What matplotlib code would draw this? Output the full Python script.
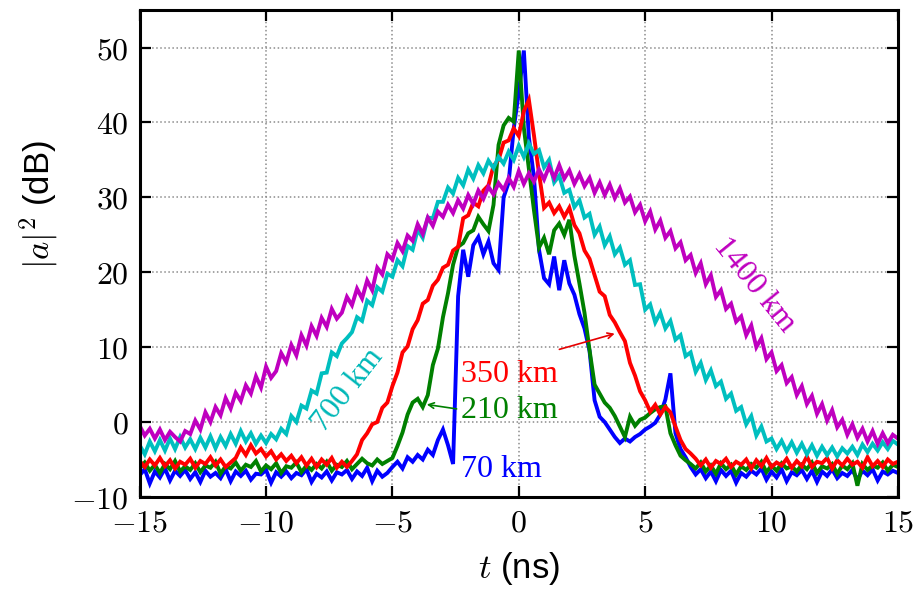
import numpy as np
import matplotlib
matplotlib.use("Agg")
import matplotlib.pyplot as plt
from matplotlib.ticker import FuncFormatter

plt.rcParams["font.family"] = ["Liberation Sans", "DejaVu Sans"]
plt.rcParams["mathtext.fontset"] = "cm"

# Time axis (ns), 0.2 ns sampling
t = np.linspace(-15, 15, 151)

# Pulse power |a|^2 (dB) after each propagation distance
p_70km = [
    -7.1, -6.3, -8.2, -6.6, -7.4, -6.2, -7.8, -6.5, -7.2, -6.4,
    -7.6, -6.7, -8.0, -6.5, -7.3, -6.8, -7.5, -6.3, -7.9, -6.6,
    -7.2, -6.5, -7.7, -6.9, -7.0, -6.4, -8.1, -6.7, -7.3, -6.6,
    -7.5, -6.8, -7.1, -6.3, -8.0, -6.9, -7.4, -6.6, -7.8, -6.7,
    -7.0, -6.4, -7.6, -6.6, -7.2, -6.1, -7.9, -6.5, -7.3, -6.8,
    -6.0, -5.3, -6.2, -4.7, -5.3, -4.4, -5.0, -3.7, -4.4, -2.4,
    -1.0, -3.1, -5.6, 16.8, 23.0, 19.4, 23.6, 24.7, 22.4, 24.1,
    21.2, 20.3, 30.0, 32.0, 39.2, 44.0, 49.6, 38.0, 32.7, 23.0,
    19.2, 18.4, 22.1, 17.6, 21.6, 18.5, 17.0, 14.4, 12.5, 9.5,
    2.9, 0.7, 0.0, -1.0, -2.0, -2.8, -2.2, -2.6, -2.0, -1.6,
    -1.0, -0.6, -0.1, 1.0, 3.0, 6.5, -1.5, -3.6, -4.7, -6.0,
    -7.0, -6.3, -7.5, -6.6, -7.9, -6.4, -7.2, -6.5, -8.1, -6.8,
    -7.3, -6.5, -7.0, -6.2, -7.7, -6.6, -7.4, -6.3, -7.9, -6.7,
    -7.1, -6.4, -7.6, -6.5, -8.0, -6.6, -7.2, -6.3, -7.5, -6.8,
    -7.2, -6.4, -7.7, -6.5, -7.1, -6.3, -7.8, -6.6, -7.0, -6.5,
    -6.8,
]

p_210km = [
    -6.2, -5.4, -6.5, -5.7, -6.8, -5.6, -6.3, -5.2, -6.6, -5.9,
    -6.4, -5.5, -6.7, -5.8, -6.1, -5.3, -6.9, -5.9, -6.2, -5.4,
    -6.5, -5.7, -6.0, -5.2, -6.6, -5.8, -6.3, -5.5, -6.8, -5.9,
    -6.1, -5.4, -6.7, -5.8, -6.4, -5.6, -6.2, -5.3, -6.5, -5.7,
    -6.0, -5.2, -6.3, -5.6, -4.9, -5.5, -5.8, -5.0, -5.6, -5.2,
    -4.8, -3.2, -1.4, 1.0, 2.6, 3.1, 2.0, 3.6, 7.6, 9.8,
    14.0, 17.2, 21.0, 23.4, 23.9, 25.2, 25.6, 27.4, 26.4, 25.5,
    29.0, 37.0, 39.6, 40.6, 40.1, 49.6, 39.3, 33.8, 28.3, 23.3,
    24.6, 22.4, 25.6, 26.5, 25.0, 27.0, 22.2, 18.5, 14.6, 9.6,
    5.0, 3.8, 2.6, 1.9, 0.8, -0.6, -2.0, 0.7, -0.5, 0.3,
    0.6, 1.2, 1.7, 2.0, 2.1, -1.5, -3.1, -4.5, -5.1, -5.6,
    -6.2, -5.4, -6.6, -5.8, -6.9, -5.5, -6.3, -5.7, -7.0, -5.9,
    -6.4, -5.6, -6.1, -5.3, -6.7, -5.8, -6.5, -5.5, -6.2, -5.9,
    -6.6, -5.7, -6.3, -5.4, -6.8, -5.9, -6.2, -5.6, -6.9, -5.8,
    -6.3, -5.5, -8.5, -5.6, -6.4, -5.8, -6.1, -5.4, -6.5, -5.7,
    -6.0,
]

p_350km = [
    -5.2, -6.0, -5.0, -5.8, -4.8, -5.9, -5.1, -6.2, -5.3, -5.7,
    -4.9, -6.1, -5.2, -5.6, -4.7, -5.8, -5.0, -6.0, -5.4, -4.8,
    -3.4, -4.4, -3.1, -4.2, -3.6, -4.6, -3.9, -5.0, -4.3, -5.2,
    -4.5, -5.5, -4.7, -5.8, -4.9, -6.0, -5.0, -5.7, -4.8, -6.1,
    -5.3, -6.0, -5.2, -4.3, -2.4, -1.5, -0.3, 0.0, 1.9, 2.6,
    4.8, 6.6, 9.3, 10.1, 12.4, 13.6, 15.8, 16.3, 18.2, 19.0,
    20.6, 21.0, 22.9, 23.4, 27.2, 27.6, 29.3, 28.8, 30.9, 31.6,
    34.2, 35.0, 37.3, 37.6, 39.2, 38.2, 41.5, 43.0, 38.3, 33.2,
    28.6, 29.3, 27.9, 28.8, 27.4, 28.6, 26.3, 25.2, 22.9, 21.8,
    19.6, 17.4, 16.8, 14.3, 13.3, 12.0, 10.8, 7.9, 6.2, 4.1,
    2.9, 1.4, 2.3, 1.0, 2.0, 1.3, -0.6, -2.4, -3.6, -4.2,
    -4.9, -5.8, -5.0, -6.1, -5.2, -5.6, -4.9, -6.0, -5.3, -5.7,
    -5.0, -6.2, -5.1, -5.9, -4.8, -6.0, -5.4, -5.8, -4.9, -6.1,
    -5.2, -5.9, -4.6, -6.0, -5.3, -5.5, -4.8, -6.2, -5.1, -5.8,
    -4.9, -5.7, -5.3, -6.1, -4.7, -5.9, -5.2, -6.0, -5.0, -5.6,
    -5.3,
]

p_700km = [
    -3.1, -4.3, -2.6, -3.9, -2.4, -3.8, -2.2, -3.6, -2.0, -3.4,
    -2.3, -3.6, -2.1, -3.4, -1.9, -3.5, -2.0, -3.2, -1.6, -2.9,
    -1.2, -2.6, -1.5, -2.9, -1.8, -2.8, -1.6, -2.3, -0.9, -1.6,
    0.8, 0.0, 2.2, 1.8, 4.2, 3.8, 6.5, 6.6, 9.3, 8.8,
    10.5, 11.2, 12.0, 14.0, 13.5, 16.2, 15.6, 18.0, 17.4, 19.8,
    19.4, 21.6, 20.8, 23.5, 23.0, 25.7, 24.6, 27.3, 27.2, 29.4,
    29.4, 31.3, 30.5, 32.6, 31.6, 33.7, 32.5, 34.3, 33.2, 34.9,
    33.9, 35.4, 34.5, 36.1, 35.0, 36.9, 35.4, 37.2, 35.8, 36.3,
    34.0, 35.0, 32.0, 32.9, 30.6, 31.0, 28.7, 29.6, 27.3, 27.8,
    25.0, 26.1, 23.6, 24.8, 22.4, 23.3, 21.0, 21.6, 18.3, 18.4,
    15.0, 15.7, 13.3, 14.6, 12.5, 13.5, 11.0, 11.6, 8.8, 9.3,
    6.7, 7.9, 5.6, 6.9, 4.8, 5.4, 3.1, 3.8, 1.5, 2.0,
    -0.3, 0.8, -1.8, -0.6, -2.6, -2.2, -3.6, -2.5, -3.9, -2.7,
    -4.1, -2.9, -4.3, -3.1, -4.5, -3.3, -4.4, -3.4, -4.6, -3.5,
    -4.2, -3.3, -4.4, -3.0, -4.0, -2.9, -3.8, -2.7, -3.6, -2.5,
    -3.0,
]

p_1400km = [
    -0.5, -1.8, -0.9, -2.2, -1.0, -2.4, -1.3, -2.0, -2.6, -1.2,
    -1.6, 0.2, -1.0, 1.3, 0.0, 2.0, 0.9, 3.2, 1.8, 3.9,
    2.8, 4.9, 3.8, 6.1, 4.6, 7.4, 5.9, 6.8, 9.2, 8.0,
    10.3, 8.9, 11.6, 10.2, 12.8, 11.5, 13.9, 12.7, 15.1, 13.8,
    14.6, 16.7, 15.6, 17.8, 16.5, 18.9, 17.6, 20.6, 19.7, 22.4,
    21.7, 23.9, 22.8, 24.9, 24.2, 26.4, 25.1, 27.3, 26.2, 28.1,
    27.4, 29.0, 27.9, 29.6, 28.5, 30.3, 29.1, 30.9, 29.8, 31.4,
    30.4, 31.9, 31.0, 32.6, 31.4, 33.5, 31.8, 33.2, 32.1, 33.7,
    32.4, 34.1, 32.6, 34.3, 32.5, 33.6, 31.8, 33.1, 31.5, 32.6,
    30.6, 32.0, 30.3, 31.7, 29.9, 31.2, 29.3, 30.1, 28.0, 29.0,
    26.8, 28.1, 25.7, 26.9, 24.6, 25.5, 23.2, 24.0, 21.6, 22.3,
    19.9, 21.2, 18.4, 19.6, 16.7, 17.6, 15.1, 15.8, 13.4, 14.1,
    11.6, 12.9, 10.0, 11.2, 8.4, 9.3, 6.8, 7.6, 5.2, 6.0,
    3.6, 4.8, 2.4, 3.5, 1.1, 2.4, 0.2, 1.6, -0.7, 0.3,
    -1.7, -0.3, -2.1, -0.9, -2.6, -1.2, -2.9, -1.5, -2.8, -1.7,
    -2.2,
]

traces = [
    (p_70km, (0.0, 0.0, 1.0)),
    (p_210km, (0.0, 0.5, 0.0)),
    (p_350km, (1.0, 0.0, 0.0)),
    (p_700km, (0.0, 0.75, 0.75)),
    (p_1400km, (0.75, 0.0, 0.75)),
]

fig = plt.figure(figsize=(9.19, 5.93), dpi=100)
ax = fig.add_axes([0.152, 0.162, 0.825, 0.821])

for values, color in traces:
    ax.plot(t, values, color=color, lw=2.8, solid_joinstyle="miter")

ax.set_xlim(-15, 15)
ax.set_ylim(-10, 55)
ax.set_xticks([-15, -10, -5, 0, 5, 10, 15])
ax.set_yticks([-10, 0, 10, 20, 30, 40, 50])
cm_fmt = FuncFormatter(lambda v, pos: r"$%d$" % round(v))
ax.xaxis.set_major_formatter(cm_fmt)
ax.yaxis.set_major_formatter(cm_fmt)
ax.grid(True, linestyle=":", color="0.55", lw=1.1)
ax.tick_params(direction="in", top=True, right=True, length=8, width=1.6,
               labelsize=23)
ax.tick_params(axis="x", pad=8)
ax.tick_params(axis="y", pad=8)
for sp in ax.spines.values():
    sp.set_linewidth(2.2)

ax.set_xlabel(r"$t$ (ns)", fontsize=25)
ax.xaxis.set_label_coords(0.5, -0.11)
ax.set_ylabel(r"$|a|^2$ (dB)", fontsize=25)
ax.yaxis.set_label_coords(-0.105, 0.6)

serif = ["Liberation Serif", "DejaVu Serif"]
ax.text(9.3, 18.3, "1400 km", color=(0.75, 0.0, 0.75), fontsize=23,
        family=serif, rotation=-51, ha="center", va="center")
ax.text(-6.75, 4.3, "700 km", color=(0.0, 0.72, 0.72), fontsize=23,
        family=serif, rotation=52, ha="center", va="center")
ax.text(-2.3, 6.3, "350 km", color=(1.0, 0.0, 0.0), fontsize=23,
        family=serif, ha="left", va="center")
ax.text(-2.3, 1.6, "210 km", color=(0.0, 0.5, 0.0), fontsize=23,
        family=serif, ha="left", va="center")
ax.text(-2.3, -6.4, "70 km", color=(0.0, 0.0, 1.0), fontsize=23,
        family=serif, ha="left", va="center")

ax.annotate("", xy=(-3.75, 2.4), xytext=(-2.35, 1.7),
            arrowprops=dict(arrowstyle="->", color=(0.0, 0.5, 0.0), lw=1.2))
ax.annotate("", xy=(3.9, 11.9), xytext=(1.5, 9.6),
            arrowprops=dict(arrowstyle="->", color=(0.9, 0.0, 0.0), lw=1.2))

fig.savefig("out.png", dpi=100)
